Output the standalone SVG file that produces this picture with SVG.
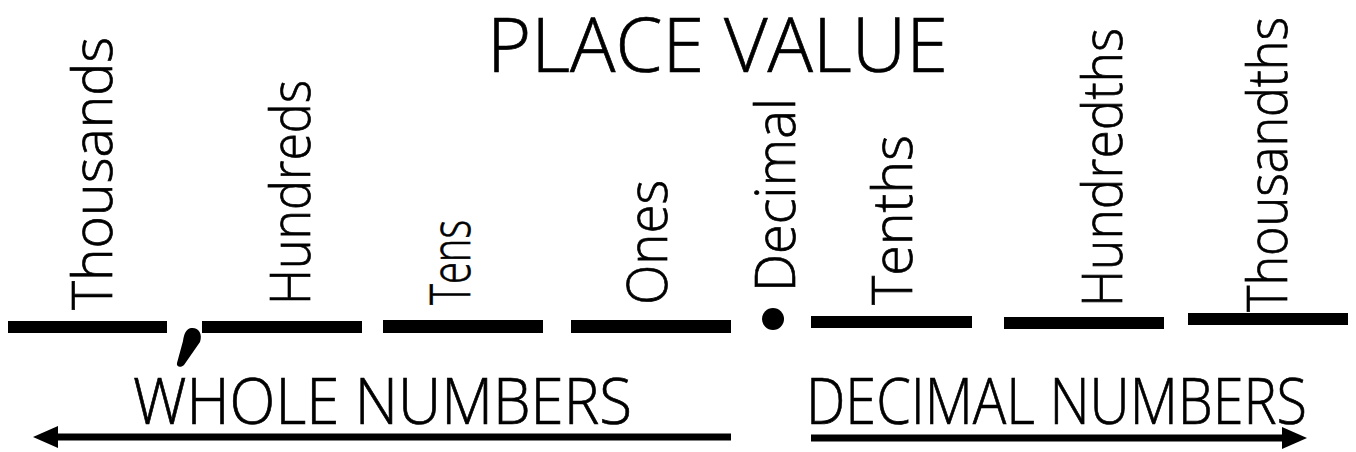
<svg xmlns="http://www.w3.org/2000/svg" width="1356" height="452" viewBox="0 0 1356 452">
<style>
.t{font-family:"Open Sans","Liberation Sans",sans-serif;font-weight:300;fill:#000;stroke:#000;stroke-width:0.7}
.lbl{font-size:55px}
.bar{fill:#000}
.ln{stroke:#000;stroke-width:7;fill:none}
</style>
<rect width="1356" height="452" fill="#fff"/>
<g id="title"><text class="t" x="487" y="72" font-size="76" textLength="461" lengthAdjust="spacingAndGlyphs">PLACE VALUE</text></g>
<g id="thousands"><rect class="bar" x="8" y="321" width="159" height="12"/><text class="t lbl" transform="translate(112,310) rotate(-90)" textLength="273" lengthAdjust="spacingAndGlyphs">Thousands</text></g>
<g id="comma"><path d="M191,328 C198,327 203,333 200,342 L184,365 C181,368 176,367 177,363 L183,341 C184,334 186,329 191,328 Z" fill="#000"/></g>
<g id="hundreds"><rect class="bar" x="202" y="321" width="160" height="12"/><text class="t lbl" transform="translate(310,305) rotate(-90)" textLength="225" lengthAdjust="spacingAndGlyphs">Hundreds</text></g>
<g id="tens"><rect class="bar" x="383" y="320" width="160" height="13"/><text class="t lbl" transform="translate(470,305) rotate(-90)" textLength="85" lengthAdjust="spacingAndGlyphs">Tens</text></g>
<g id="ones"><rect class="bar" x="571" y="320" width="160" height="13"/><text class="t lbl" transform="translate(667,305) rotate(-90)" textLength="125" lengthAdjust="spacingAndGlyphs">Ones</text></g>
<g id="decimal"><circle cx="773" cy="319" r="11" fill="#000"/><text class="t lbl" transform="translate(795,292) rotate(-90)" textLength="194" lengthAdjust="spacingAndGlyphs">Decimal</text></g>
<g id="tenths"><rect class="bar" x="811" y="316" width="161" height="12"/><text class="t lbl" transform="translate(912,305) rotate(-90)" textLength="170" lengthAdjust="spacingAndGlyphs">Tenths</text></g>
<g id="hundredths"><rect class="bar" x="1004" y="317" width="160" height="12"/><text class="t lbl" transform="translate(1122,307) rotate(-90)" textLength="279" lengthAdjust="spacingAndGlyphs">Hundredths</text></g>
<g id="thousandths"><rect class="bar" x="1188" y="313" width="160" height="12"/><text class="t lbl" transform="translate(1287,312) rotate(-90)" textLength="295" lengthAdjust="spacingAndGlyphs">Thousandths</text></g>
<g id="whole-numbers"><text class="t" x="133" y="424" font-size="64" textLength="499" lengthAdjust="spacingAndGlyphs">WHOLE NUMBERS</text></g>
<g id="decimal-numbers"><text class="t" x="806" y="424" font-size="64" textLength="501" lengthAdjust="spacingAndGlyphs">DECIMAL NUMBERS</text></g>
<g id="connectors">
<line class="ln" x1="731" y1="437" x2="55" y2="437"/>
<polygon points="33,437 58,426 58,448" fill="#000"/>
<line class="ln" x1="811" y1="438" x2="1285" y2="438"/>
<polygon points="1307,438 1282,427 1282,449" fill="#000"/>
</g>
</svg>
